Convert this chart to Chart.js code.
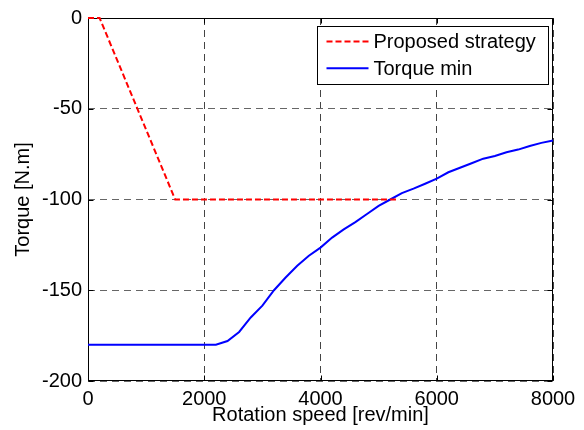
<!DOCTYPE html>
<html>
<head>
  <meta charset="utf-8">
  <title>Torque vs rotation speed</title>
  <script src="https://cdn.jsdelivr.net/npm/chart.js@4.4.1/dist/chart.umd.min.js"></script>
  <style>
    body { margin: 0; background: #fff; }
  </style>
</head>
<body>
  <canvas id="torqueChart" width="584" height="430"></canvas>

  <script>
    // proposed strategy (piecewise)
    const strategySpeed = [0, 200, 1500, 5300];
    const strategyTorque = [0, 0, -100, -100];

    // minimum torque curve
    const minSpeed = [0, 2200, 2400, 2600, 2800, 3000, 3200, 3400, 3600, 3800, 4000,
                      4200, 4400, 4600, 4800, 5000, 5200, 5400, 5600, 5800, 6000,
                      6200, 6400, 6600, 6800, 7000, 7200, 7400, 7600, 7800, 8000];
    const minTorque = [-180, -180, -178, -173, -165, -158.5, -150, -143, -136.5, -131, -126.5,
                       -121, -116.5, -112.5, -108, -103.5, -100, -96.5, -94, -91.3, -88.5,
                       -85, -82.5, -80, -77.5, -76, -74, -72.5, -70.5, -68.8, -67.5];

    const xTicks = [0, 2000, 4000, 6000, 8000];
    const yTicks = [-200, -150, -100, -50, 0];

    const FONT = 'Liberation Sans, Arial, sans-serif';

    function toPoints(xs, ys) {
      return xs.map((x, i) => ({ x: x, y: ys[i] }));
    }

    // box around the plot with inward tick marks (under the curves),
    // legend in the top right corner (over everything)
    const framePlugin = {
      id: 'frame',
      beforeDatasetsDraw(chart) {
        const ctx = chart.ctx;
        const a = chart.chartArea;
        const xs = chart.scales.x, ys = chart.scales.y;
        const L = Math.round(a.left) + 0.5, R = Math.round(a.right) - 0.5;
        const T = Math.round(a.top) + 0.5, B = Math.round(a.bottom) - 0.5;
        ctx.save();
        ctx.strokeStyle = '#000';
        ctx.lineWidth = 1;
        ctx.setLineDash([]);
        ctx.strokeRect(L, T, R - L, B - T);
        const tl = 5;
        ctx.beginPath();
        xTicks.forEach(v => {
          const px = Math.round(xs.getPixelForValue(v)) + 0.5;
          ctx.moveTo(px, B); ctx.lineTo(px, B - tl);
          ctx.moveTo(px, T); ctx.lineTo(px, T + tl);
        });
        yTicks.forEach(v => {
          const py = Math.round(ys.getPixelForValue(v)) + 0.5;
          ctx.moveTo(L, py); ctx.lineTo(L + tl, py);
          ctx.moveTo(R, py); ctx.lineTo(R - tl, py);
        });
        ctx.stroke();
        ctx.restore();
      },
      afterDraw(chart) {
        const ctx = chart.ctx;
        const a = chart.chartArea;
        ctx.save();
        const bx = Math.round(a.right) - 236 + 0.5, by = Math.round(a.top) + 8 + 0.5;
        const bw = 231, bh = 58;
        ctx.fillStyle = '#fff';
        ctx.strokeStyle = '#000';
        ctx.lineWidth = 1;
        ctx.fillRect(bx, by, bw, bh);
        ctx.strokeRect(bx, by, bw, bh);
        ctx.font = '20px ' + FONT;
        ctx.textBaseline = 'middle';
        chart.data.datasets.forEach((ds, i) => {
          const cy = by + 15 + i * 26.7;
          ctx.beginPath();
          ctx.strokeStyle = ds.borderColor;
          ctx.lineWidth = ds.borderWidth;
          ctx.setLineDash(ds.borderDash || []);
          ctx.moveTo(bx + 9, cy);
          ctx.lineTo(bx + 51, cy);
          ctx.stroke();
          ctx.setLineDash([]);
          ctx.fillStyle = '#000';
          ctx.fillText(ds.label, bx + 56, cy + 1);
        });
        ctx.restore();
      }
    };

    const config = {
      type: 'scatter',
      data: {
        datasets: [{
          label: 'Proposed strategy',
          data: toPoints(strategySpeed, strategyTorque),
          borderColor: '#ff0000',
          borderWidth: 2,
          borderDash: [6, 3],
          showLine: true,
          pointRadius: 0,
          clip: 4
        }, {
          label: 'Torque min',
          data: toPoints(minSpeed, minTorque),
          borderColor: '#0000ff',
          borderWidth: 2,
          showLine: true,
          pointRadius: 0,
          clip: 4
        }]
      },
      options: {
        responsive: false,
        animation: false,
        devicePixelRatio: 1,
        layout: { padding: { top: 14, right: 31, left: 0, bottom: 0 } },
        plugins: { legend: { display: false }, tooltip: { enabled: false } },
        scales: {
          x: {
            type: 'linear',
            min: 0,
            max: 8000,
            afterFit(scale) { scale.height = 49; },
            afterBuildTicks(scale) { scale.ticks = xTicks.map(v => ({ value: v })); },
            grid: { color: '#444', drawTicks: false, lineWidth: 1 },
            border: { display: false, dash: [7, 5] },
            ticks: {
              color: '#000', padding: 6, maxRotation: 0,
              font: { family: FONT, size: 20 },
              callback: v => String(v)
            },
            title: {
              display: true,
              text: 'Rotation speed [rev/min]',
              color: '#000',
              font: { family: FONT, size: 20, lineHeight: 1.2 },
              padding: { top: 0, bottom: 3 }
            }
          },
          y: {
            type: 'linear',
            min: -200,
            max: 0,
            afterFit(scale) { scale.width = 88; },
            afterBuildTicks(scale) { scale.ticks = yTicks.map(v => ({ value: v })); },
            grid: { color: '#666', drawTicks: false, lineWidth: 1 },
            border: { display: false, dash: [7, 5] },
            ticks: {
              color: '#000', padding: 6,
              font: { family: FONT, size: 20 },
              callback: v => String(v)
            },
            title: {
              display: true,
              text: 'Torque [N.m]',
              color: '#000',
              font: { family: FONT, size: 20, lineHeight: 1.2 },
              padding: { top: 11, bottom: 0 }
            }
          }
        }
      },
      plugins: [framePlugin]
    };

    new Chart(document.getElementById('torqueChart'), config);
  </script>
</body>
</html>
